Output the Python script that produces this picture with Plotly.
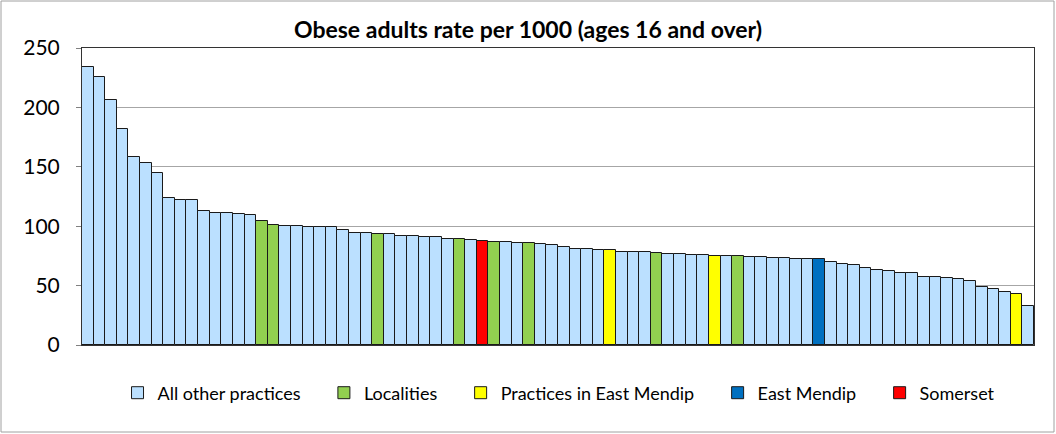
import plotly.graph_objects as go

# Bar values (sorted, left to right) and the group each bar belongs to
values = [234, 225.6, 206.3, 181.5, 157.9, 153.5, 144.8, 123.4, 122, 121.7,
          112.4, 111.3, 110.7, 110.2, 109.6, 104.3, 100.6, 99.8, 99.8, 99.4,
          99.2, 99.0, 96.7, 94.2, 94.2, 93.6, 93.6, 91.9, 91.9, 90.8,
          90.8, 89.4, 89.4, 88.3, 87.7, 87.1, 86.5, 85.7, 85.7, 85.4,
          84.6, 82.9, 80.6, 80.6, 80.1, 80.1, 77.9, 77.9, 77.9, 77.3,
          77.0, 76.2, 75.6, 75.6, 75.0, 75.0, 74.5, 73.9, 73.9, 73.4,
          73.4, 72.8, 72.6, 72.8, 70.0, 68.0, 67.5, 64.9, 63.5, 62.4,
          61.0, 60.4, 57.6, 57.6, 56.8, 55.4, 53.7, 48.6, 47.2, 44.4,
          43.3, 33.1]

groups = ["All other practices"] * len(values)
for i in [15, 16, 25, 32, 35, 38, 49, 56]:
    groups[i] = "Localities"
for i in [45, 54, 80]:
    groups[i] = "Practices in East Mendip"
groups[63] = "East Mendip"
groups[34] = "Somerset"

series = ["All other practices", "Localities", "Practices in East Mendip", "East Mendip", "Somerset"]
colors = ["#BBE0FF", "#92D050", "#FFFF00", "#0070C0", "#FF0000"]

font = "Lato, 'Open Sans', sans-serif"
pad = "\u00a0" * 4  # extra room between legend entries
fig = go.Figure()
xs = list(range(1, len(values) + 1))
for name, col in zip(series, colors):
    fig.add_trace(go.Bar(
        x=xs,
        y=[v if g == name else None for v, g in zip(values, groups)],
        name=name + pad,
        marker=dict(color=col, line=dict(color="#1a1a1a", width=1)),
    ))

W, H = 1056, 434
ml, mr, mt, mb = 82, 22, 48, 89
pw, ph = W - ml - mr, H - mt - mb

fig.update_layout(
    width=W, height=H,
    margin=dict(l=ml, r=mr, t=mt, b=mb),
    barmode="overlay", bargap=0,
    plot_bgcolor="white", paper_bgcolor="white",
    font=dict(family=font, color="#000000"),
    title=dict(text="<b>Obese adults rate per 1000 (ages 16 and over)</b>",
               x=0.5, xanchor="center", y=1 - 30 / H, yanchor="middle",
               font=dict(size=23)),
    legend=dict(orientation="h", x=0.51, xanchor="center",
                y=(345 - 393) / ph, yanchor="middle",
                font=dict(size=18), itemwidth=30, traceorder="normal"),
    shapes=[dict(type="rect", xref="paper", yref="paper",
                 x0=-(ml - 1) / pw, x1=1 + (mr - 2) / pw,
                 y0=-(mb - 2) / ph, y1=1 + (mt - 1) / ph,
                 line=dict(color="#A0A0A0", width=1))],
)
fig.update_xaxes(range=[0.5, len(values) + 0.5], showticklabels=False, ticks="",
                 showgrid=False, showline=True, linecolor="#333333", mirror=True,
                 zeroline=False)
fig.update_yaxes(range=[0, 250], dtick=50, showgrid=True, gridcolor="#A6A6A6",
                 ticks="outside", ticklen=5, tickcolor="#808080",
                 ticklabelstandoff=12,
                 showline=True, linecolor="#333333", mirror=True,
                 tickfont=dict(size=21), zeroline=False)

fig.write_html("out.html", config={"displayModeBar": False},
               post_script="document.body.style.margin='0';")
